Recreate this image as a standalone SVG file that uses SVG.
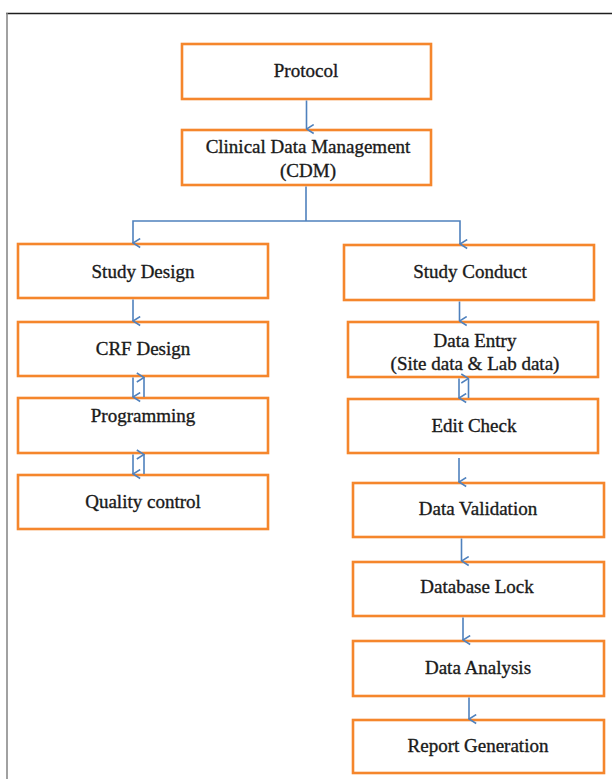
<svg xmlns="http://www.w3.org/2000/svg" width="612" height="779" viewBox="0 0 612 779">
<style>
.box{fill:#fff;stroke:#F5862C;stroke-width:2.6}
.lbl{font-family:"Liberation Serif","Times New Roman",serif;font-size:19px;fill:#1a1a1a;stroke:#1a1a1a;stroke-width:0.35;text-anchor:middle}
.con{fill:none;stroke:#4F81BD;stroke-width:1.6}
</style>
<defs>
<marker id="arr" viewBox="0 0 11 9" refX="5.5" refY="8.2" markerWidth="11" markerHeight="9" markerUnits="userSpaceOnUse" orient="auto-start-reverse">
<path d="M1,1 L5.5,8.2 L10,1" fill="none" stroke="#4F81BD" stroke-width="1.5"/>
</marker>
</defs>
<rect width="612" height="779" fill="#fff"/>
<line x1="6" y1="13.5" x2="612" y2="13.5" stroke="#1e1e1e" stroke-width="1.6"/>
<line x1="7" y1="13" x2="7" y2="779" stroke="#8a8a8a" stroke-width="1.6"/>

<g id="protocol"><rect class="box" x="182" y="44" width="249" height="55"/><text class="lbl" x="306" y="77">Protocol</text></g>
<g id="cdm"><rect class="box" x="182" y="130" width="249" height="55"/><text class="lbl" x="308" y="153">Clinical Data Management</text><text class="lbl" x="308" y="177">(CDM)</text></g>

<g id="study-design"><rect class="box" x="18" y="244" width="250" height="54"/><text class="lbl" x="143" y="278">Study Design</text></g>
<g id="crf-design"><rect class="box" x="18" y="322" width="250" height="54"/><text class="lbl" x="143" y="355">CRF Design</text></g>
<g id="programming"><rect class="box" x="18" y="398" width="250" height="55"/><text class="lbl" x="143" y="422">Programming</text></g>
<g id="quality-control"><rect class="box" x="18" y="475" width="250" height="54"/><text class="lbl" x="143" y="508">Quality control</text></g>

<g id="study-conduct"><rect class="box" x="344" y="245" width="250" height="55"/><text class="lbl" x="470" y="278">Study Conduct</text></g>
<g id="data-entry"><rect class="box" x="348" y="322" width="250" height="55"/><text class="lbl" x="475" y="347">Data Entry</text><text class="lbl" x="475" y="370">(Site data &amp; Lab data)</text></g>
<g id="edit-check"><rect class="box" x="348" y="399" width="250" height="54"/><text class="lbl" x="474" y="432">Edit Check</text></g>
<g id="data-validation"><rect class="box" x="353" y="483" width="251" height="54"/><text class="lbl" x="478" y="515">Data Validation</text></g>
<g id="database-lock"><rect class="box" x="353" y="562" width="251" height="54"/><text class="lbl" x="477" y="593">Database Lock</text></g>
<g id="data-analysis"><rect class="box" x="353" y="641" width="251" height="55"/><text class="lbl" x="478" y="674">Data Analysis</text></g>
<g id="report-generation"><rect class="box" x="353" y="720" width="251" height="53"/><text class="lbl" x="478" y="752">Report Generation</text></g>

<g id="connectors">
<path class="con" d="M306.5,100.5 V129" marker-end="url(#arr)"/>
<path class="con" d="M306,186.5 V221"/>
<path class="con" d="M306,221 H133 V243" marker-end="url(#arr)"/>
<path class="con" d="M306,221 H460 V244" marker-end="url(#arr)"/>
<path class="con" d="M133,299.5 V321" marker-end="url(#arr)"/>
<path class="con" d="M133,377.5 V397" marker-end="url(#arr)"/>
<path class="con" d="M144,397 V377.5" marker-end="url(#arr)"/>
<path class="con" d="M133,454.5 V474" marker-end="url(#arr)"/>
<path class="con" d="M144,474 V454.5" marker-end="url(#arr)"/>
<path class="con" d="M459.5,301.5 V321" marker-end="url(#arr)"/>
<path class="con" d="M459,378.5 V398" marker-end="url(#arr)"/>
<path class="con" d="M468.5,398 V378.5" marker-end="url(#arr)"/>
<path class="con" d="M459,458 V482" marker-end="url(#arr)"/>
<path class="con" d="M461.5,538.5 V561" marker-end="url(#arr)"/>
<path class="con" d="M463,617.5 V640" marker-end="url(#arr)"/>
<path class="con" d="M469,697.5 V719" marker-end="url(#arr)"/>
</g>
</svg>
